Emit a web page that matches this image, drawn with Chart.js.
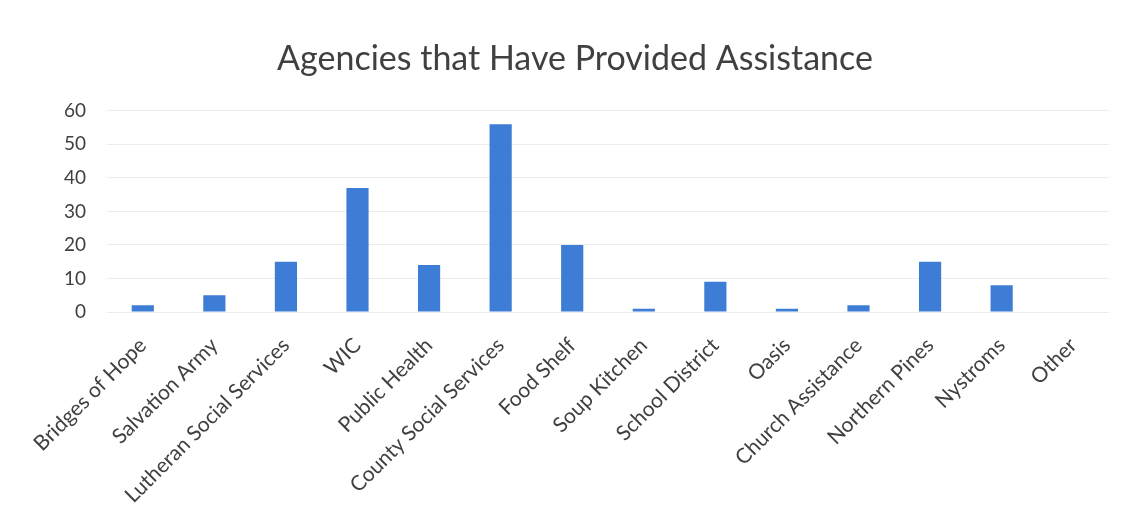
<!DOCTYPE html>
<html>
<head>
<meta charset="utf-8">
<script src="https://cdn.jsdelivr.net/npm/chart.js@4/dist/chart.umd.min.js"></script>
<style>
  html, body { margin: 0; padding: 0; background: #fff; }
  #wrap { width: 1134px; height: 527px; position: relative; }
</style>
</head>
<body>
<div id="wrap"><canvas id="c" width="1134" height="527"></canvas></div>
<script>
const categories = ["Bridges of Hope", "Salvation Army", "Lutheran Social Services", "WIC", "Public Health", "County Social Services", "Food Shelf", "Soup Kitchen", "School District", "Oasis", "Church Assistance", "Northern Pines", "Nystroms", "Other"];
const counts = [2, 5, 15, 37, 14, 56, 20, 1, 9, 1, 2, 15, 8, 0];
const yTicks = [0, 10, 20, 30, 40, 50, 60];
const titleText = "Agencies that Have Provided Assistance";

const FONT = "Lato, 'Open Sans', sans-serif";

new Chart(document.getElementById('c'), {
  type: 'bar',
  data: {
    labels: categories,
    datasets: [{
      label: 'Count',
      data: counts,
      backgroundColor: '#3d7dd5',
      categoryPercentage: 1.0,
      barPercentage: 0.31
    }]
  },
  options: {
    responsive: false,
    animation: false,
    layout: { padding: { left: 41, right: 25, top: 0, bottom: 0 } },
    plugins: {
      legend: { display: false },
      tooltip: { enabled: false },
      title: {
        display: true,
        text: titleText,
        color: '#404040',
        font: { family: FONT, size: 34, weight: 'normal' },
        padding: { top: 39, bottom: 31 }
      }
    },
    scales: {
      x: {
        grid: { display: false, drawTicks: false },
        border: { display: false },
        ticks: {
          color: '#404040',
          font: { family: FONT, size: 21 },
          minRotation: 45,
          maxRotation: 45,
          autoSkip: false,
          padding: 21
        },
        afterFit: (s) => { s.height = 215; }
      },
      y: {
        min: yTicks[0],
        max: yTicks[yTicks.length - 1],
        afterBuildTicks: (s) => { s.ticks = yTicks.map(v => ({ value: v })); },
        grid: { color: '#ececec', drawTicks: false, lineWidth: 1 },
        border: { display: false },
        ticks: {
          color: '#404040',
          font: { family: FONT, size: 19 },
          padding: 21
        },
        afterFit: (s) => { s.width = 66; }
      }
    }
  }
});
</script>
</body>
</html>
